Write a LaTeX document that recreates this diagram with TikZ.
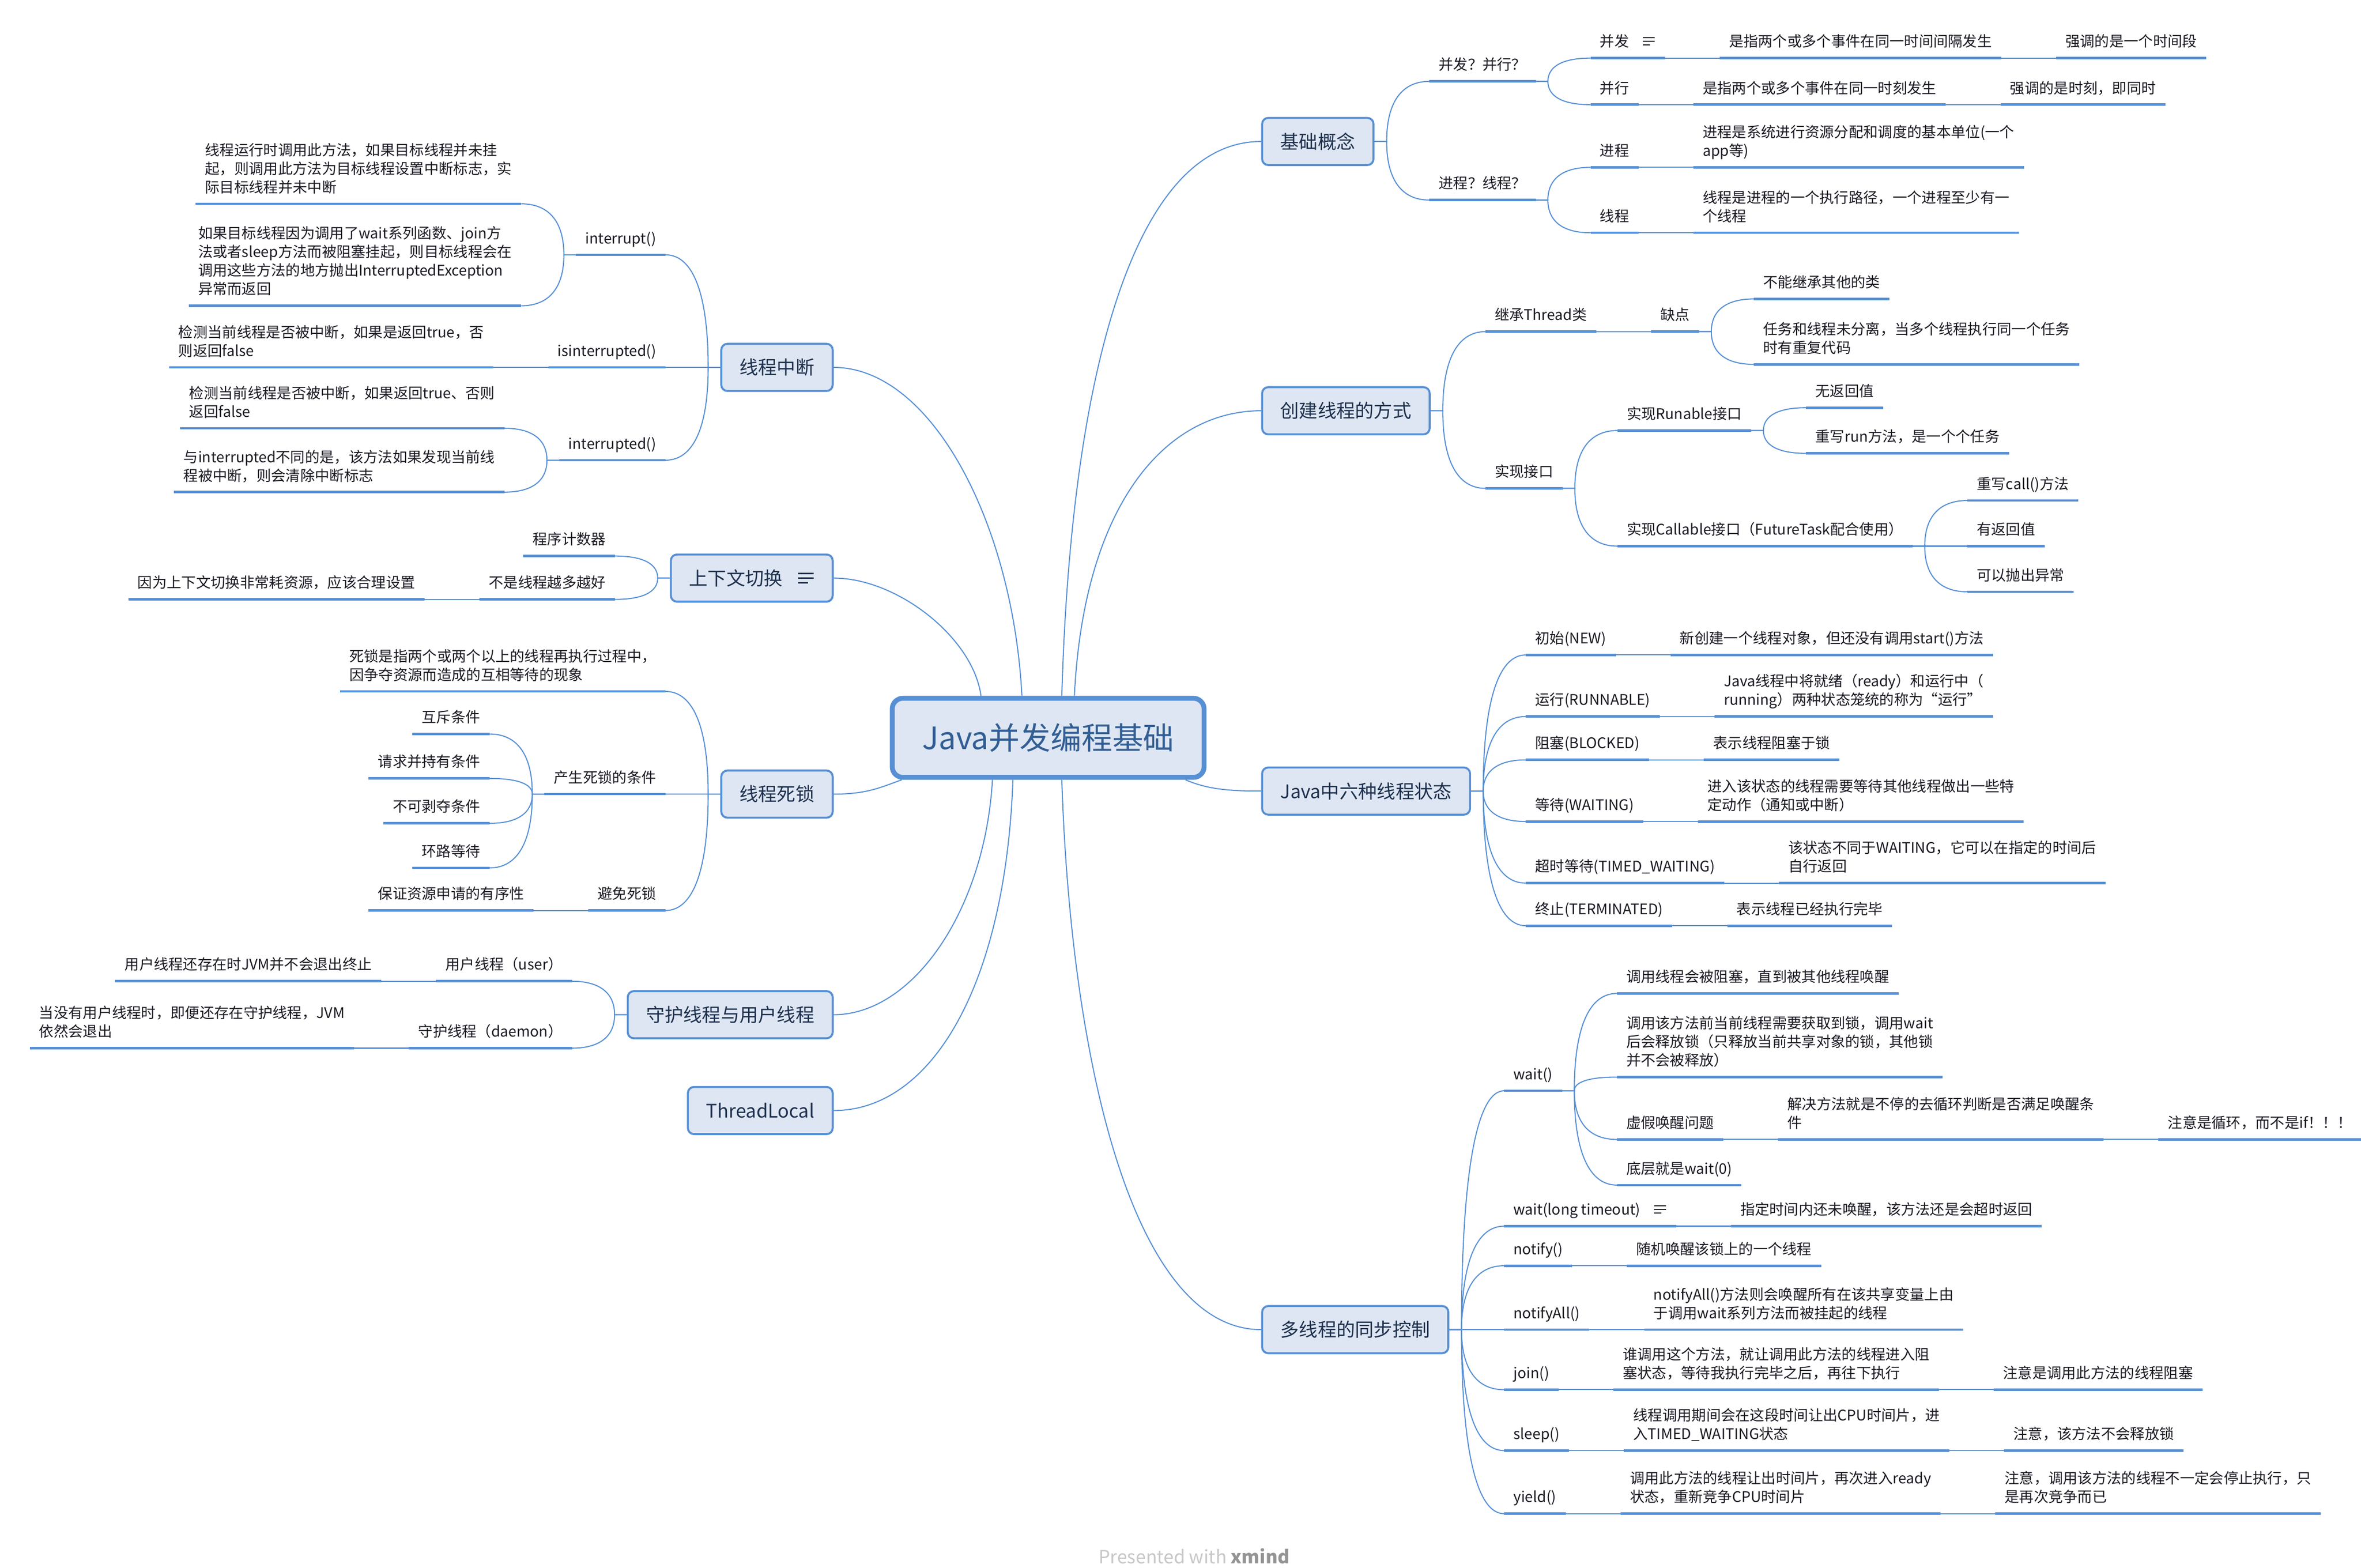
\documentclass[tikz,border=0pt]{standalone}
\usepackage{fontspec}
\setmainfont{Noto Sans CJK SC}
\usetikzlibrary{positioning,calc}

\definecolor{mapline}{RGB}{86,143,212}
\definecolor{mapfill}{RGB}{221,230,242}
\definecolor{roottext}{RGB}{50,94,148}
\definecolor{topictext}{RGB}{30,48,78}
\definecolor{leaftext}{RGB}{25,25,35}

\newcommand{\noteicon}[1]{\tikz[baseline=0pt]{\draw[#1, line width=0.075em]
  (0,0.62em) -- (0.82em,0.62em) (0,0.38em) -- (0.82em,0.38em) (0,0.14em) -- (0.5em,0.14em);}}
\newcommand{\mlines}[1]{\begin{tabular}[b]{@{}l@{}}#1\end{tabular}}

\begin{document}
\begin{tikzpicture}[x=1pt, y=1pt,
  rootbox/.style={draw=mapline, line width=3.2pt, fill=mapfill, rounded corners=7pt,
    minimum width=205pt, minimum height=52pt, text=roottext, font=\fontsize{20.3}{24}\selectfont},
  topicbox/.style={draw=mapline, line width=1.3pt, fill=mapfill, rounded corners=4pt,
    inner xsep=12pt, minimum height=31pt, text=topictext, font=\fontsize{12.3}{15}\selectfont},
  underbar/.style={draw=mapline, line width=1.6pt},
  linkline/.style={draw=mapline, line width=0.7pt},
  elbow/.style={to path={.. controls ($(\tikztostart)!.65!(\tikztostart |- \tikztotarget)$)
    and ($(\tikztotarget)!.65!(\tikztostart |- \tikztotarget)$) .. (\tikztotarget)}},
  leaf/.style={inner xsep=6pt, inner ysep=4.5pt, text depth=2.7pt, text=leaftext,
    font=\fontsize{9.6}{12.2}\selectfont,
    append after command={(\tikzlastnode.south west) edge[underbar] (\tikzlastnode.south east)}},
  rleaf/.style={leaf, anchor=south west},
  lleaf/.style={leaf, anchor=south east}]
\useasboundingbox (0,0) rectangle (1552,-1030.4);

% centre and main topics
\node[rootbox] (root) at (689,-485) {Java并发编程基础};

\node[topicbox, anchor=west] (basic) at (829,-93) {基础概念};
\node[topicbox, anchor=west] (create) at (829,-270) {创建线程的方式};
\node[topicbox, anchor=west] (state) at (829,-520) {Java中六种线程状态};
\node[topicbox, anchor=west] (sync) at (829,-874) {多线程的同步控制};
\node[topicbox, anchor=east] (intr) at (548,-241.5) {线程中断};
\node[topicbox, anchor=east] (ctx) at (548,-380) {上下文切换\hspace{0.8em}\noteicon{topictext}};
\node[topicbox, anchor=east] (lock) at (548,-522) {线程死锁};
\node[topicbox, anchor=east] (guard) at (548,-667) {守护线程与用户线程};
\node[topicbox, anchor=east] (tlocal) at (548,-730) {ThreadLocal};

\draw[linkline] (root.72) .. controls +(6,210) and +(-84,0) .. (basic.west);
\draw[linkline] (root.58) .. controls +(6,124) and +(-64,0) .. (create.west);
\draw[linkline] (root.-17) .. controls +(14,-6) and +(-22,0) .. (state.west);
\draw[linkline] (root.-72) .. controls +(6,-186) and +(-84,0) .. (sync.west);
\draw[linkline] (root.122) .. controls +(-6,114) and +(64,0) .. (intr.east);
\draw[linkline] (root.148) .. controls +(-5,38) and +(42,0) .. (ctx.east);
\draw[linkline] (root.-164) .. controls +(-14,-5) and +(22,0) .. (lock.east);
\draw[linkline] (root.-143) .. controls +(-5,-86) and +(52,0) .. (guard.east);
\draw[linkline] (root.-130) .. controls +(-5,-136) and +(64,0) .. (tlocal.east);

% basic concepts
\node (conc) [above right=39.5pt and 36pt of basic.east, rleaf] {并发？并行？};
\node (proc) [below right=38.5pt and 36pt of basic.east, rleaf] {进程？线程？};
\node (concA) [above right=15.3pt and 36pt of conc.south east, rleaf] {并发\hspace{0.9em}\noteicon{leaftext}};
\node (concA1) [right=36pt of concA.south east, rleaf] {是指两个或多个事件在同一时间间隔发生};
\node (concA2) [right=36pt of concA1.south east, rleaf] {强调的是一个时间段};
\node (concB) [below right=15.3pt and 36pt of conc.south east, rleaf] {并行};
\node (concB1) [right=36pt of concB.south east, rleaf] {是指两个或多个事件在同一时刻发生};
\node (concB2) [right=36pt of concB1.south east, rleaf] {强调的是时刻，即同时};
\node (procA) [above right=21.5pt and 36pt of proc.south east, rleaf] {进程};
\node (procA1) [right=36pt of procA.south east, rleaf] {\mlines{进程是系统进行资源分配和调度的基本单位(一个\\app等)}};
\node (procB) [below right=21.5pt and 36pt of proc.south east, rleaf] {线程};
\node (procB1) [right=36pt of procB.south east, rleaf] {\mlines{线程是进程的一个执行路径，一个进程至少有一\\个线程}};

\draw[linkline] (basic.east) -- ++(8,0) to[elbow] (conc.south west);
\draw[linkline] (basic.east) -- ++(8,0) to[elbow] (proc.south west);
\draw[linkline] (conc.south east) -- ++(8,0) to[elbow] (concA.south west);
\draw[linkline] (conc.south east) -- ++(8,0) to[elbow] (concB.south west);
\draw[linkline] (concA.south east) -- (concA1.south west);
\draw[linkline] (concA1.south east) -- (concA2.south west);
\draw[linkline] (concB.south east) -- (concB1.south west);
\draw[linkline] (concB1.south east) -- (concB2.south west);
\draw[linkline] (proc.south east) -- ++(8,0) to[elbow] (procA.south west);
\draw[linkline] (proc.south east) -- ++(8,0) to[elbow] (procB.south west);
\draw[linkline] (procA.south east) -- (procA1.south west);
\draw[linkline] (procB.south east) -- (procB1.south west);

% ways to create a thread
\node (inh) [above right=52pt and 36pt of create.east, rleaf] {继承Thread类};
\node (inhA) [right=36pt of inh.south east, rleaf] {缺点};
\node (inhA1) [above right=21.5pt and 36pt of inhA.south east, rleaf] {不能继承其他的类};
\node (inhA2) [below right=21.5pt and 36pt of inhA.south east, rleaf] {\mlines{任务和线程未分离，当多个线程执行同一个任务\\时有重复代码}};
\node (impl) [below right=51pt and 36pt of create.east, rleaf] {实现接口};
\node (run) [above right=38pt and 36pt of impl.south east, rleaf] {实现Runable接口};
\node (runA) [above right=15pt and 36pt of run.south east, rleaf] {无返回值};
\node (runB) [below right=15pt and 36pt of run.south east, rleaf] {重写run方法，是一个个任务};
\node (call) [below right=38pt and 36pt of impl.south east, rleaf] {实现Callable接口（FutureTask配合使用）};
\node (callA) [above right=30pt and 36pt of call.south east, rleaf] {重写call()方法};
\node (callB) [right=36pt of call.south east, rleaf] {有返回值};
\node (callC) [below right=30pt and 36pt of call.south east, rleaf] {可以抛出异常};

\draw[linkline] (create.east) -- ++(8,0) to[elbow] (inh.south west);
\draw[linkline] (create.east) -- ++(8,0) to[elbow] (impl.south west);
\draw[linkline] (inh.south east) -- (inhA.south west);
\draw[linkline] (inhA.south east) -- ++(8,0) to[elbow] (inhA1.south west);
\draw[linkline] (inhA.south east) -- ++(8,0) to[elbow] (inhA2.south west);
\draw[linkline] (impl.south east) -- ++(8,0) to[elbow] (run.south west);
\draw[linkline] (impl.south east) -- ++(8,0) to[elbow] (call.south west);
\draw[linkline] (run.south east) -- ++(8,0) to[elbow] (runA.south west);
\draw[linkline] (run.south east) -- ++(8,0) to[elbow] (runB.south west);
\draw[linkline] (call.south east) -- ++(8,0) to[elbow] (callA.south west);
\draw[linkline] (call.south east) -- (callB.south west);
\draw[linkline] (call.south east) -- ++(8,0) to[elbow] (callC.south west);

% six thread states
\node (sNew) [above right=89.5pt and 36pt of state.east, rleaf] {初始(NEW)};
\node (sNew1) [right=36pt of sNew.south east, rleaf] {新创建一个线程对象，但还没有调用start()方法};
\node (sRun) [above right=49pt and 36pt of state.east, rleaf] {运行(RUNNABLE)};
\node (sRun1) [right=36pt of sRun.south east, rleaf] {\mlines{Java线程中将就绪（ready）和运行中（\\running）两种状态笼统的称为“运行”}};
\node (sBlock) [above right=20.5pt and 36pt of state.east, rleaf] {阻塞(BLOCKED)};
\node (sBlock1) [right=36pt of sBlock.south east, rleaf] {表示线程阻塞于锁};
\node (sWait) [below right=20pt and 36pt of state.east, rleaf] {等待(WAITING)};
\node (sWait1) [right=36pt of sWait.south east, rleaf] {\mlines{进入该状态的线程需要等待其他线程做出一些特\\定动作（通知或中断）}};
\node (sTimed) [below right=60.5pt and 36pt of state.east, rleaf] {超时等待(TIMED\_WAITING)};
\node (sTimed1) [right=36pt of sTimed.south east, rleaf] {\mlines{该状态不同于WAITING，它可以在指定的时间后\\自行返回}};
\node (sTerm) [below right=88.5pt and 36pt of state.east, rleaf] {终止(TERMINATED)};
\node (sTerm1) [right=36pt of sTerm.south east, rleaf] {表示线程已经执行完毕};

\draw[linkline] (state.east) -- ++(8,0) to[elbow] (sNew.south west);
\draw[linkline] (state.east) -- ++(8,0) to[elbow] (sRun.south west);
\draw[linkline] (state.east) -- ++(8,0) to[elbow] (sBlock.south west);
\draw[linkline] (state.east) -- ++(8,0) to[elbow] (sWait.south west);
\draw[linkline] (state.east) -- ++(8,0) to[elbow] (sTimed.south west);
\draw[linkline] (state.east) -- ++(8,0) to[elbow] (sTerm.south west);
\draw[linkline] (sNew.south east) -- (sNew1.south west);
\draw[linkline] (sRun.south east) -- (sRun1.south west);
\draw[linkline] (sBlock.south east) -- (sBlock1.south west);
\draw[linkline] (sWait.south east) -- (sWait1.south west);
\draw[linkline] (sTimed.south east) -- (sTimed1.south west);
\draw[linkline] (sTerm.south east) -- (sTerm1.south west);

% synchronisation between threads
\node (wait) [above right=157pt and 36pt of sync.east, rleaf] {wait()};
\node (waitA) [above right=64pt and 36pt of wait.south east, rleaf] {调用线程会被阻塞，直到被其他线程唤醒};
\node (waitB) [above right=9pt and 36pt of wait.south east, rleaf] {\mlines{调用该方法前当前线程需要获取到锁，调用wait\\后会释放锁（只释放当前共享对象的锁，其他锁\\并不会被释放）}};
\node (waitC) [below right=32pt and 36pt of wait.south east, rleaf] {虚假唤醒问题};
\node (waitC1) [right=36pt of waitC.south east, rleaf] {\mlines{解决方法就是不停的去循环判断是否满足唤醒条\\件}};
\node (waitC2) [right=36pt of waitC1.south east, rleaf] {注意是循环，而不是if！！！};
\node (waitD) [below right=62pt and 36pt of wait.south east, rleaf] {底层就是wait(0)};
\node (waitT) [above right=68pt and 36pt of sync.east, rleaf] {wait(long timeout)\hspace{0.9em}\noteicon{leaftext}};
\node (waitT1) [right=36pt of waitT.south east, rleaf] {指定时间内还未唤醒，该方法还是会超时返回};
\node (notify) [above right=42pt and 36pt of sync.east, rleaf] {notify()};
\node (notify1) [right=36pt of notify.south east, rleaf] {随机唤醒该锁上的一个线程};
\node (notifyAll) [right=36pt of sync.east, rleaf] {notifyAll()};
\node (notifyAll1) [right=36pt of notifyAll.south east, rleaf] {\mlines{notifyAll()方法则会唤醒所有在该共享变量上由\\于调用wait系列方法而被挂起的线程}};
\node (join) [below right=39.5pt and 36pt of sync.east, rleaf] {join()};
\node (join1) [right=36pt of join.south east, rleaf] {\mlines{谁调用这个方法，就让调用此方法的线程进入阻\\塞状态，等待我执行完毕之后，再往下执行}};
\node (join2) [right=36pt of join1.south east, rleaf] {注意是调用此方法的线程阻塞};
\node (sleep) [below right=79.5pt and 36pt of sync.east, rleaf] {sleep()};
\node (sleep1) [right=36pt of sleep.south east, rleaf] {\mlines{线程调用期间会在这段时间让出CPU时间片，进\\入TIMED\_WAITING状态}};
\node (sleep2) [right=36pt of sleep1.south east, rleaf] {注意，该方法不会释放锁};
\node (yield) [below right=121pt and 36pt of sync.east, rleaf] {yield()};
\node (yield1) [right=36pt of yield.south east, rleaf] {\mlines{调用此方法的线程让出时间片，再次进入ready\\状态，重新竞争CPU时间片}};
\node (yield2) [right=36pt of yield1.south east, rleaf] {\mlines{注意，调用该方法的线程不一定会停止执行，只\\是再次竞争而已}};

\draw[linkline] (sync.east) -- ++(8,0) to[elbow] (wait.south west);
\draw[linkline] (sync.east) -- ++(8,0) to[elbow] (waitT.south west);
\draw[linkline] (sync.east) -- ++(8,0) to[elbow] (notify.south west);
\draw[linkline] (sync.east) -- (notifyAll.south west);
\draw[linkline] (sync.east) -- ++(8,0) to[elbow] (join.south west);
\draw[linkline] (sync.east) -- ++(8,0) to[elbow] (sleep.south west);
\draw[linkline] (sync.east) -- ++(8,0) to[elbow] (yield.south west);
\draw[linkline] (wait.south east) -- ++(8,0) to[elbow] (waitA.south west);
\draw[linkline] (wait.south east) -- ++(8,0) to[elbow] (waitB.south west);
\draw[linkline] (wait.south east) -- ++(8,0) to[elbow] (waitC.south west);
\draw[linkline] (wait.south east) -- ++(8,0) to[elbow] (waitD.south west);
\draw[linkline] (waitC.south east) -- (waitC1.south west);
\draw[linkline] (waitC1.south east) -- (waitC2.south west);
\draw[linkline] (waitT.south east) -- (waitT1.south west);
\draw[linkline] (notify.south east) -- (notify1.south west);
\draw[linkline] (notifyAll.south east) -- (notifyAll1.south west);
\draw[linkline] (join.south east) -- (join1.south west);
\draw[linkline] (join1.south east) -- (join2.south west);
\draw[linkline] (sleep.south east) -- (sleep1.south west);
\draw[linkline] (sleep1.south east) -- (sleep2.south west);
\draw[linkline] (yield.south east) -- (yield1.south west);
\draw[linkline] (yield1.south east) -- (yield2.south west);

% thread interruption
\node (intrA) [above left=74pt and 36pt of intr.west, lleaf] {interrupt()};
\node (intrA1) [above left=33.5pt and 36pt of intrA.south west, lleaf] {\mlines{线程运行时调用此方法，如果目标线程并未挂\\起，则调用此方法为目标线程设置中断标志，实\\际目标线程并未中断}};
\node (intrA2) [below left=33.5pt and 36pt of intrA.south west, lleaf] {\mlines{如果目标线程因为调用了wait系列函数、join方\\法或者sleep方法而被阻塞挂起，则目标线程会在\\调用这些方法的地方抛出InterruptedException\\异常而返回}};
\node (intrB) [left=36pt of intr.west, lleaf] {isinterrupted()};
\node (intrB1) [left=36pt of intrB.south west, lleaf] {\mlines{检测当前线程是否被中断，如果是返回true，否\\则返回false}};
\node (intrC) [below left=61pt and 36pt of intr.west, lleaf] {interrupted()};
\node (intrC1) [above left=21pt and 36pt of intrC.south west, lleaf] {\mlines{检测当前线程是否被中断，如果返回true、否则\\返回false}};
\node (intrC2) [below left=21pt and 36pt of intrC.south west, lleaf] {\mlines{与interrupted不同的是，该方法如果发现当前线\\程被中断，则会清除中断标志}};

\draw[linkline] (intr.west) -- ++(-8,0) to[elbow] (intrA.south east);
\draw[linkline] (intr.west) -- (intrB.south east);
\draw[linkline] (intr.west) -- ++(-8,0) to[elbow] (intrC.south east);
\draw[linkline] (intrA.south west) -- ++(-8,0) to[elbow] (intrA1.south east);
\draw[linkline] (intrA.south west) -- ++(-8,0) to[elbow] (intrA2.south east);
\draw[linkline] (intrB.south west) -- (intrB1.south east);
\draw[linkline] (intrC.south west) -- ++(-8,0) to[elbow] (intrC1.south east);
\draw[linkline] (intrC.south west) -- ++(-8,0) to[elbow] (intrC2.south east);

% context switch
\node (ctxA) [above left=14.5pt and 36pt of ctx.west, lleaf] {程序计数器};
\node (ctxB) [below left=14pt and 36pt of ctx.west, lleaf] {不是线程越多越好};
\node (ctxB1) [left=36pt of ctxB.south west, lleaf] {因为上下文切换非常耗资源，应该合理设置};

\draw[linkline] (ctx.west) -- ++(-8,0) to[elbow] (ctxA.south east);
\draw[linkline] (ctx.west) -- ++(-8,0) to[elbow] (ctxB.south east);
\draw[linkline] (ctxB.south west) -- (ctxB1.south east);

% deadlock
\node (lockA) [above left=67.5pt and 36pt of lock.west, lleaf] {\mlines{死锁是指两个或两个以上的线程再执行过程中，\\因争夺资源而造成的互相等待的现象}};
\node (lockB) [left=36pt of lock.west, lleaf] {产生死锁的条件};
\node (lockB1) [above left=39.5pt and 36pt of lockB.south west, lleaf] {互斥条件};
\node (lockB2) [above left=10.3pt and 36pt of lockB.south west, lleaf] {请求并持有条件};
\node (lockB3) [below left=19.2pt and 36pt of lockB.south west, lleaf] {不可剥夺条件};
\node (lockB4) [below left=48.5pt and 36pt of lockB.south west, lleaf] {环路等待};
\node (lockC) [below left=76.5pt and 36pt of lock.west, lleaf] {避免死锁};
\node (lockC1) [left=36pt of lockC.south west, lleaf] {保证资源申请的有序性};

\draw[linkline] (lock.west) -- ++(-8,0) to[elbow] (lockA.south east);
\draw[linkline] (lock.west) -- (lockB.south east);
\draw[linkline] (lock.west) -- ++(-8,0) to[elbow] (lockC.south east);
\draw[linkline] (lockB.south west) -- ++(-8,0) to[elbow] (lockB1.south east);
\draw[linkline] (lockB.south west) -- ++(-8,0) to[elbow] (lockB2.south east);
\draw[linkline] (lockB.south west) -- ++(-8,0) to[elbow] (lockB3.south east);
\draw[linkline] (lockB.south west) -- ++(-8,0) to[elbow] (lockB4.south east);
\draw[linkline] (lockC.south west) -- (lockC1.south east);

% daemon and user threads
\node (user) [above left=22pt and 36pt of guard.west, lleaf] {用户线程（user）};
\node (user1) [left=36pt of user.south west, lleaf] {用户线程还存在时JVM并不会退出终止};
\node (dmn) [below left=22pt and 36pt of guard.west, lleaf] {守护线程（daemon）};
\node (dmn1) [left=36pt of dmn.south west, lleaf] {\mlines{当没有用户线程时，即便还存在守护线程，JVM\\依然会退出}};

\draw[linkline] (guard.west) -- ++(-8,0) to[elbow] (user.south east);
\draw[linkline] (guard.west) -- ++(-8,0) to[elbow] (dmn.south east);
\draw[linkline] (user.south west) -- (user1.south east);
\draw[linkline] (dmn.south west) -- (dmn1.south east);

\node[text=black!22, font=\fontsize{12}{14}\selectfont] (mark) at (785,-1023) {Presented with \textcolor{black!42}{\textbf{xmind}}};
\end{tikzpicture}
\end{document}
